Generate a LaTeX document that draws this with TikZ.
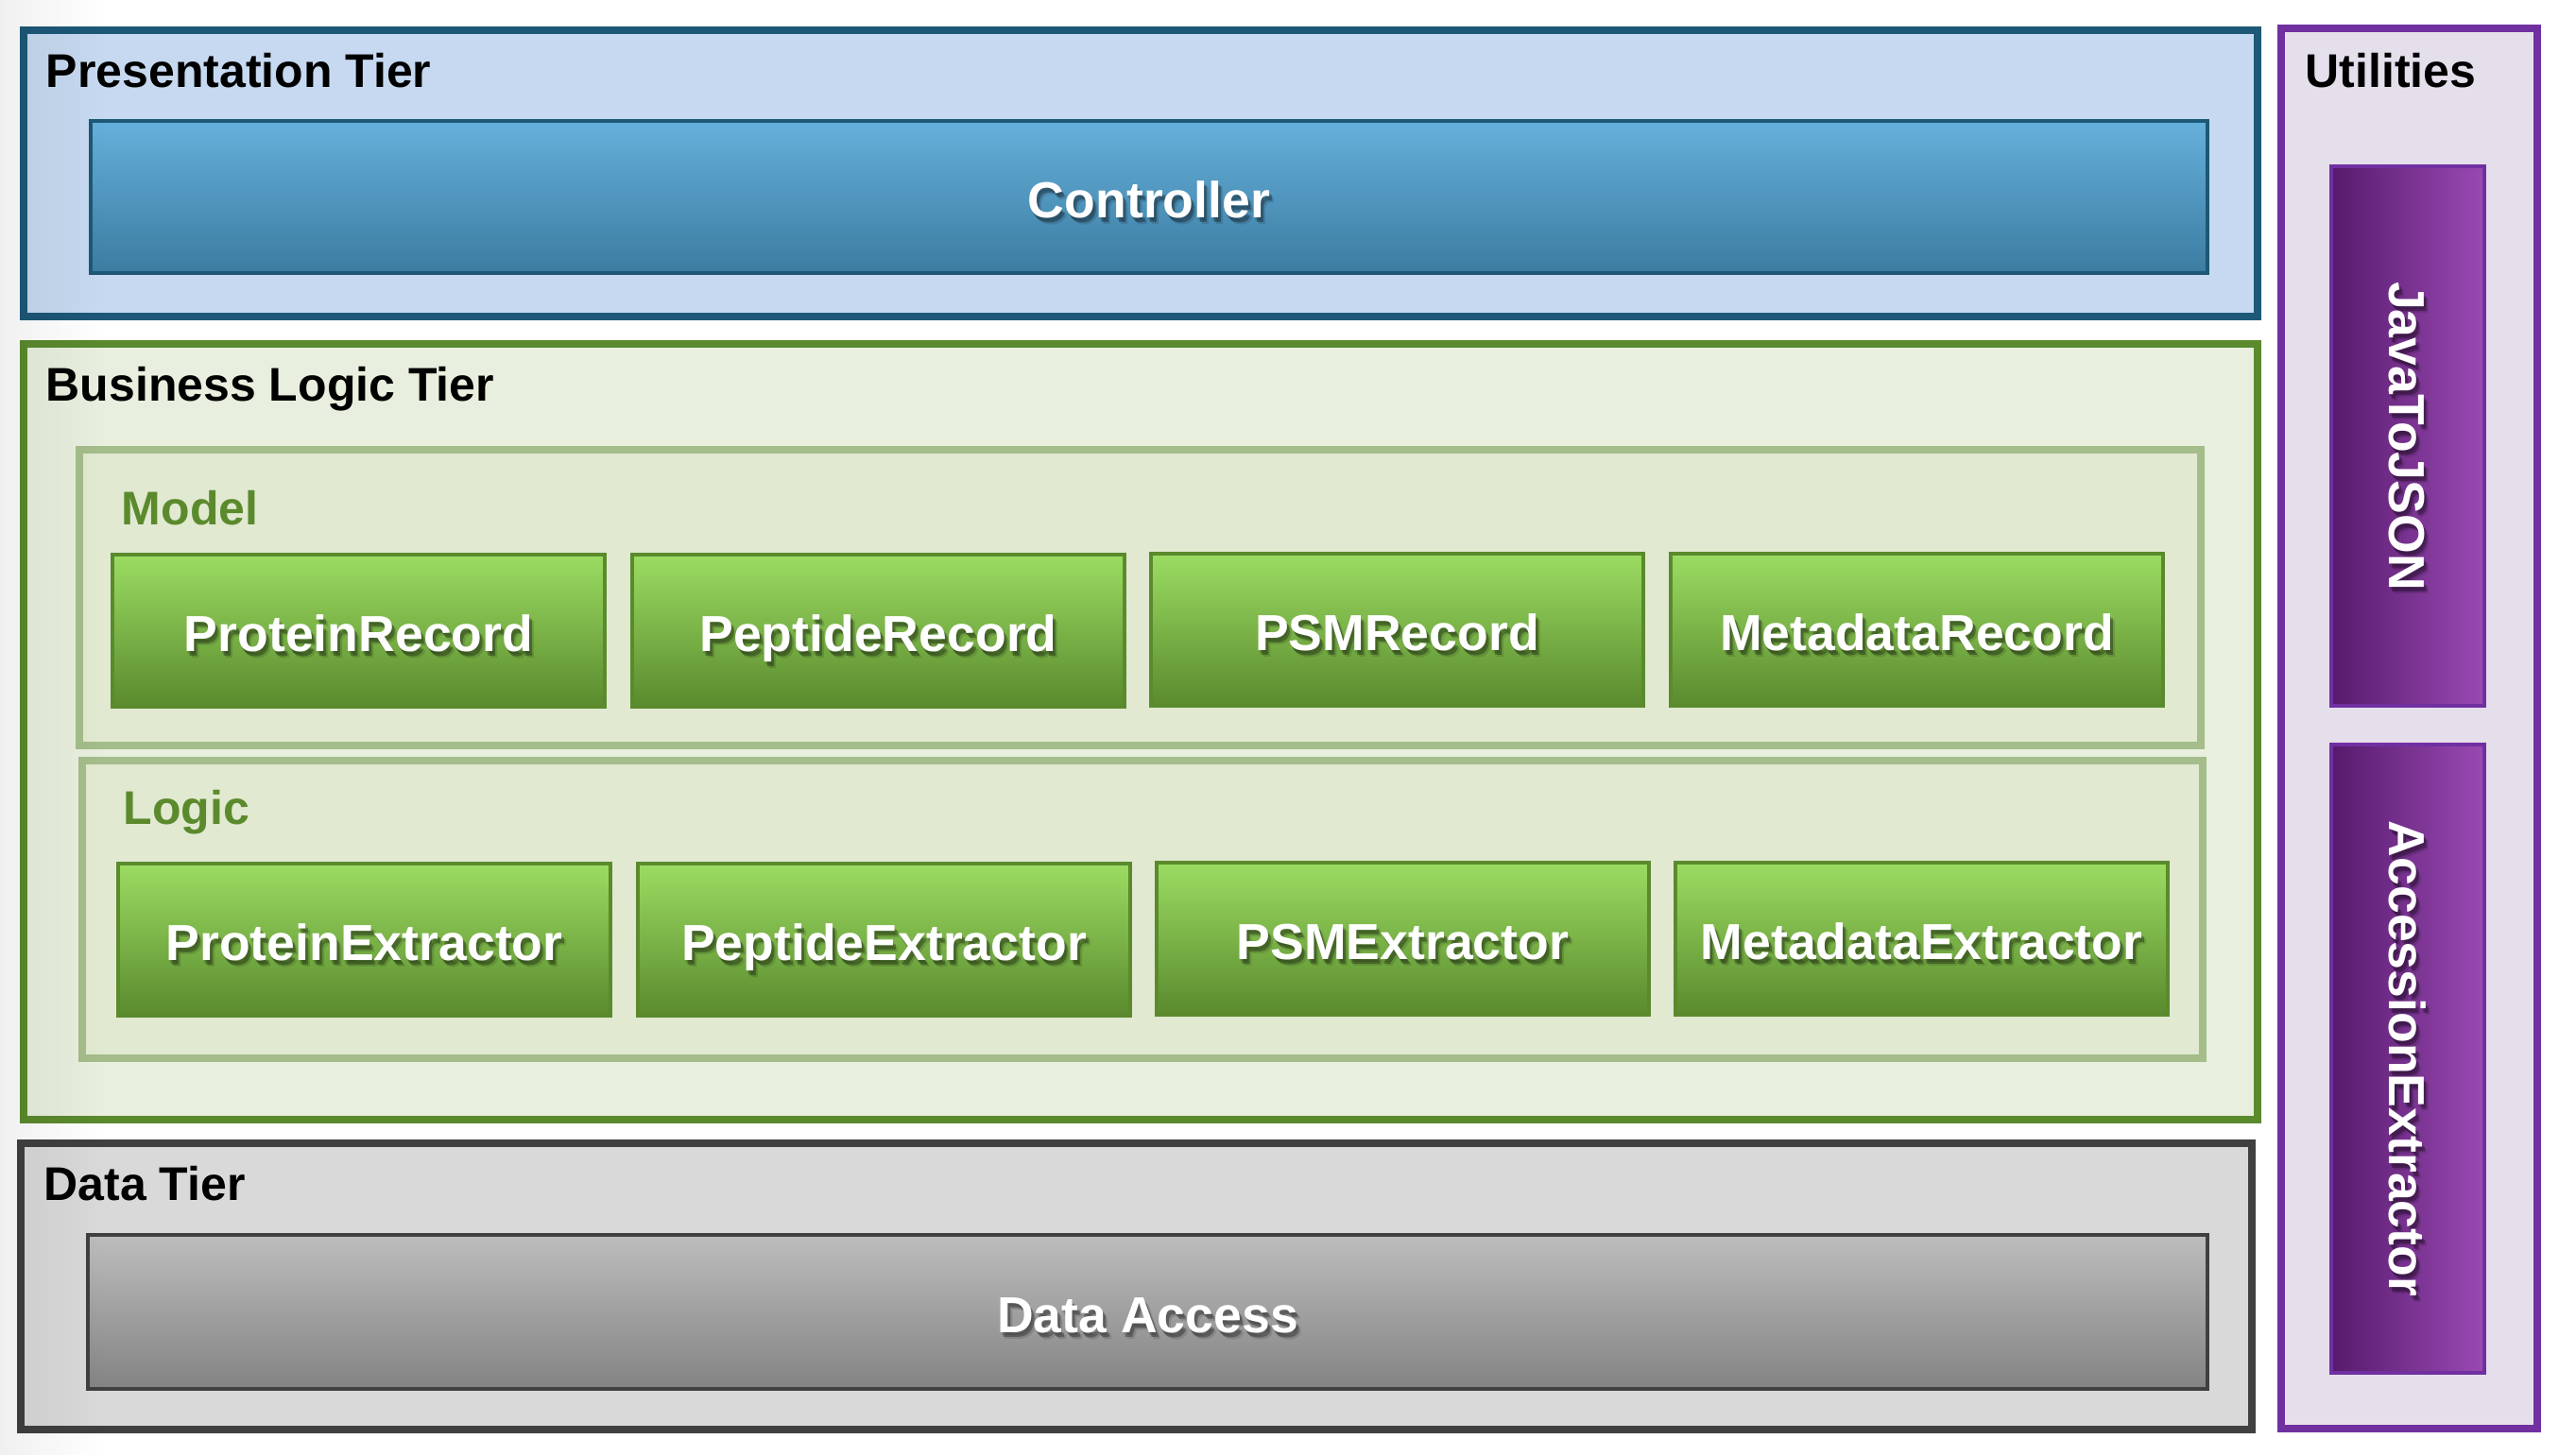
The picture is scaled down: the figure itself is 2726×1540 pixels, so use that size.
\documentclass[tikz,border=0pt]{standalone}
\usepackage{fontspec}
\setmainfont{Liberation Sans}
\usetikzlibrary{fadings}
\definecolor{presB}{HTML}{1D5877}
\definecolor{presF}{HTML}{C6D9F0}
\definecolor{ctrlT}{HTML}{65B0DB}
\definecolor{ctrlB}{HTML}{3C7CA1}
\definecolor{bizB}{HTML}{5B8A2D}
\definecolor{bizF}{HTML}{E8EFDE}
\definecolor{grpB}{HTML}{A4BD8A}
\definecolor{grpF}{HTML}{E1E9D1}
\definecolor{recT}{HTML}{9BDC62}
\definecolor{recB}{HTML}{5A8A2E}
\definecolor{datB}{HTML}{404040}
\definecolor{datF}{HTML}{D9D9D9}
\definecolor{daT}{HTML}{BDBDBD}
\definecolor{daB}{HTML}{838383}
\definecolor{utlB}{HTML}{7030A0}
\definecolor{utlF}{HTML}{E5DFEC}
\definecolor{purL}{HTML}{561A6C}
\definecolor{purR}{HTML}{9A4AB3}
\tikzset{
  tier/.style={draw, line width=2pt, inner sep=0pt, outer sep=0pt},
  grp/.style={draw=grpB, fill=grpF, line width=2pt, inner sep=0pt, outer sep=0pt},
  comp/.style={draw, line width=1pt, inner sep=0pt, outer sep=0pt},
  recbox/.style={comp, draw=bizB, top color=recT, bottom color=recB, minimum width=130.25pt, minimum height=40.25pt},
  ttl/.style={anchor=base west, inner sep=0pt, font=\bfseries\fontsize{12.5}{15}\selectfont},
  btxt/.style={inner sep=0pt, text height=9.6pt, text depth=0pt, font=\bfseries\fontsize{13.4}{16}\selectfont},
  htxt/.style={text height=11pt}
}
\newcommand\shtxt[4]{%
  \foreach \dx/\dy/\op in {3/5/0.3, 1/3/0.12, 5/7/0.12}{%
    \node[shift={(\dx,\dy)}, btxt, #3, text=black, opacity=\op] at (#2) {#4};
  }%
  \node[btxt, #3, text=white] (#1) at (#2) {#4};
}
\begin{document}
\begin{tikzpicture}[x=0.25pt,y=-0.25pt]
\useasboundingbox (0,0) rectangle (2726,1540);
\fill[white] (0,0) rectangle (2726,1540);
% Presentation tier
\node[tier, draw=presB, fill=presF, minimum width=591pt, minimum height=75.75pt] (pres) at (1207,183.5) {};
\node[comp, draw=presB, top color=ctrlT, bottom color=ctrlB, minimum width=560pt, minimum height=40.25pt] (ctrl) at (1216,208.5) {};
% Business logic tier
\node[tier, draw=bizB, fill=bizF, minimum width=591pt, minimum height=205.25pt] (biz) at (1207,774.5) {};
\node[grp, minimum width=561.25pt, minimum height=78.25pt] (model) at (1206.5,632.5) {};
\node[grp, minimum width=561pt, minimum height=78.75pt] (logic) at (1209,962.5) {};
\node[recbox] (pr) at (379.5,667.5) {};
\node[recbox] (pepr) at (929.5,667.5) {};
\node[recbox] (psmr) at (1478.5,666.5) {};
\node[recbox] (metar) at (2028.5,666.5) {};
\node[recbox] (pe) at (385.5,994.5) {};
\node[recbox] (pepe) at (935.5,994.5) {};
\node[recbox] (psme) at (1484.5,993) {};
\node[recbox] (metae) at (2033.5,993) {};
% Data tier
\node[tier, draw=datB, fill=datF, minimum width=590.25pt, minimum height=75.75pt] (data) at (1202.5,1361.5) {};
\node[comp, draw=datB, top color=daT, bottom color=daB, minimum width=560.75pt, minimum height=40.75pt] (da) at (1214.5,1388.5) {};
% Utilities
\node[tier, draw=utlB, fill=utlF, minimum width=67.75pt, minimum height=370.5pt] (utl) at (2549.5,771) {};
\node[comp, draw=utlB, left color=purL, right color=purR, minimum width=40.5pt, minimum height=142.75pt] (j2j) at (2548,461.5) {};
\node[comp, draw=utlB, left color=purL, right color=purR, minimum width=40.5pt, minimum height=166.25pt] (acc) at (2548,1120.5) {};
% Titles
\node[ttl] (tpres) at (48,93) {Presentation Tier};
\node[ttl] (tbiz) at (48,425) {Business Logic Tier};
\node[ttl] (tdata) at (46,1270) {Data Tier};
\node[ttl] (tutl) at (2439,93) {Utilities};
\node[ttl, text=bizB] (tmodel) at (128,555) {Model};
\node[ttl, text=bizB] (tlogic) at (130,872) {Logic};
% Component labels
\shtxt{lctrl}{ctrl.center}{htxt}{Controller}
\shtxt{lpr}{pr.center}{htxt}{ProteinRecord}
\shtxt{lpepr}{pepr.center}{htxt}{PeptideRecord}
\shtxt{lpsmr}{psmr.center}{htxt}{PSMRecord}
\shtxt{lmetar}{metar.center}{htxt}{MetadataRecord}
\shtxt{lpe}{pe.center}{htxt}{ProteinExtractor}
\shtxt{lpepe}{pepe.center}{htxt}{PeptideExtractor}
\shtxt{lpsme}{psme.center}{htxt}{PSMExtractor}
\shtxt{lmetae}{metae.center}{htxt}{MetadataExtractor}
\shtxt{lda}{da.center}{htxt}{Data Access}
\shtxt{lj2j}{j2j.center}{rotate=-90}{JavaToJSON}
\shtxt{lacc}{acc.center}{rotate=-90}{AccessionExtractor}
% left edge shade
\fill[black, opacity=0.06, path fading=east] (0,0) rectangle (110,1540);
\end{tikzpicture}
\end{document}
